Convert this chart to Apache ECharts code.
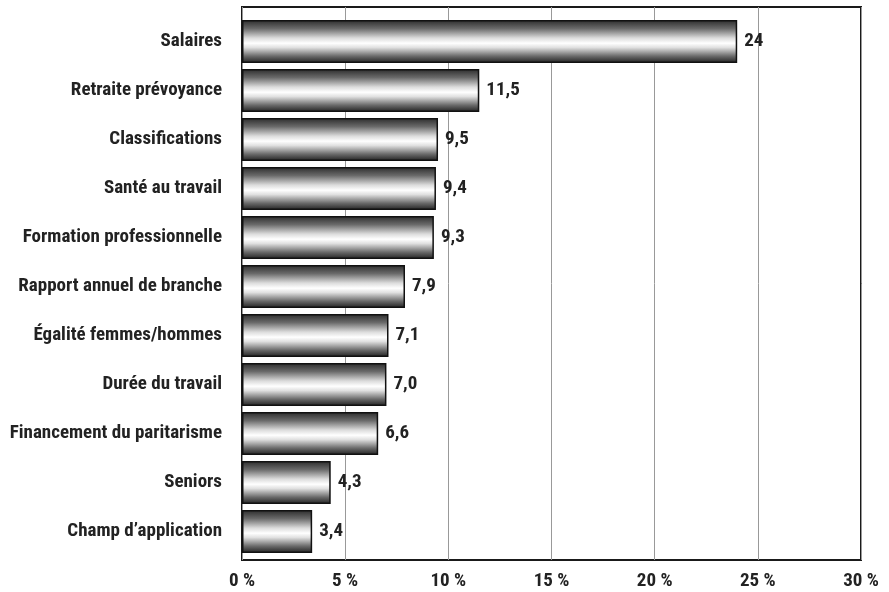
<!DOCTYPE html>
<html><head><meta charset="utf-8">
<script src="https://cdn.jsdelivr.net/npm/echarts@6/dist/echarts.min.js"></script>
<style>html,body{margin:0;padding:0;background:#fff}#c{width:889px;height:592px}</style>
</head><body><div id="c"></div>
<script>
const categories = ["Salaires","Retraite prévoyance","Classifications","Santé au travail","Formation professionnelle","Rapport annuel de branche","Égalité femmes/hommes","Durée du travail","Financement du paritarisme","Seniors","Champ d’application"];
const values = [24, 11.5, 9.5, 9.4, 9.3, 7.9, 7.1, 7.0, 6.6, 4.3, 3.4];
const valueLabels = ["24","11,5","9,5","9,4","9,3","7,9","7,1","7,0","6,6","4,3","3,4"];
const xTicks = [0,5,10,15,20,25,30];
const FONT = "'Roboto Condensed',Roboto,sans-serif";
const chart = echarts.init(document.getElementById('c'), null, {renderer:'canvas'});
chart.setOption({
  animation:false,
  grid:[
    {left:242,right:28,top:7,bottom:32,show:true,borderColor:'#1a1a1a',borderWidth:2,backgroundColor:'transparent',outerBoundsMode:'none',containLabel:false},
    {left:242,right:28,top:17,bottom:36,show:false,outerBoundsMode:'none',containLabel:false}
  ],
  xAxis:[
    {gridIndex:0,type:'value',min:xTicks[0],max:xTicks[xTicks.length-1],interval:5,
     axisLine:{show:false},axisTick:{show:false},
     splitLine:{show:true,lineStyle:{color:'#999',width:1}},
     axisLabel:{formatter:v=>v+' %',color:'#222',fontWeight:'bold',fontSize:19,fontFamily:FONT,margin:12}},
    {gridIndex:1,type:'value',min:xTicks[0],max:xTicks[xTicks.length-1],show:false}
  ],
  yAxis:[
    {gridIndex:0,type:'category',data:categories,show:false},
    {gridIndex:1,type:'category',data:categories,inverse:true,
     axisLine:{show:false},axisTick:{show:false},splitLine:{show:false},
     axisLabel:{color:'#222',fontWeight:'bold',fontSize:19,fontFamily:FONT,margin:20}}
  ],
  series:[{type:'bar',xAxisIndex:1,yAxisIndex:1,data:values,barCategoryGap:'12%',
    itemStyle:{borderColor:'#111',borderWidth:1.5,
      color:new echarts.graphic.LinearGradient(0,0,0,1,[
        {offset:0,color:'#2a2a2a'},{offset:0.2,color:'#6a6a6a'},{offset:0.42,color:'#dcdcdc'},
        {offset:0.54,color:'#ffffff'},{offset:0.64,color:'#e0e0e0'},{offset:0.84,color:'#6a6a6a'},{offset:1,color:'#1f1f1f'}])},
    label:{show:true,position:'right',distance:7,formatter:p=>valueLabels[p.dataIndex],
      color:'#222',fontWeight:'bold',fontSize:19,fontFamily:FONT}}]
});
</script></body></html>
